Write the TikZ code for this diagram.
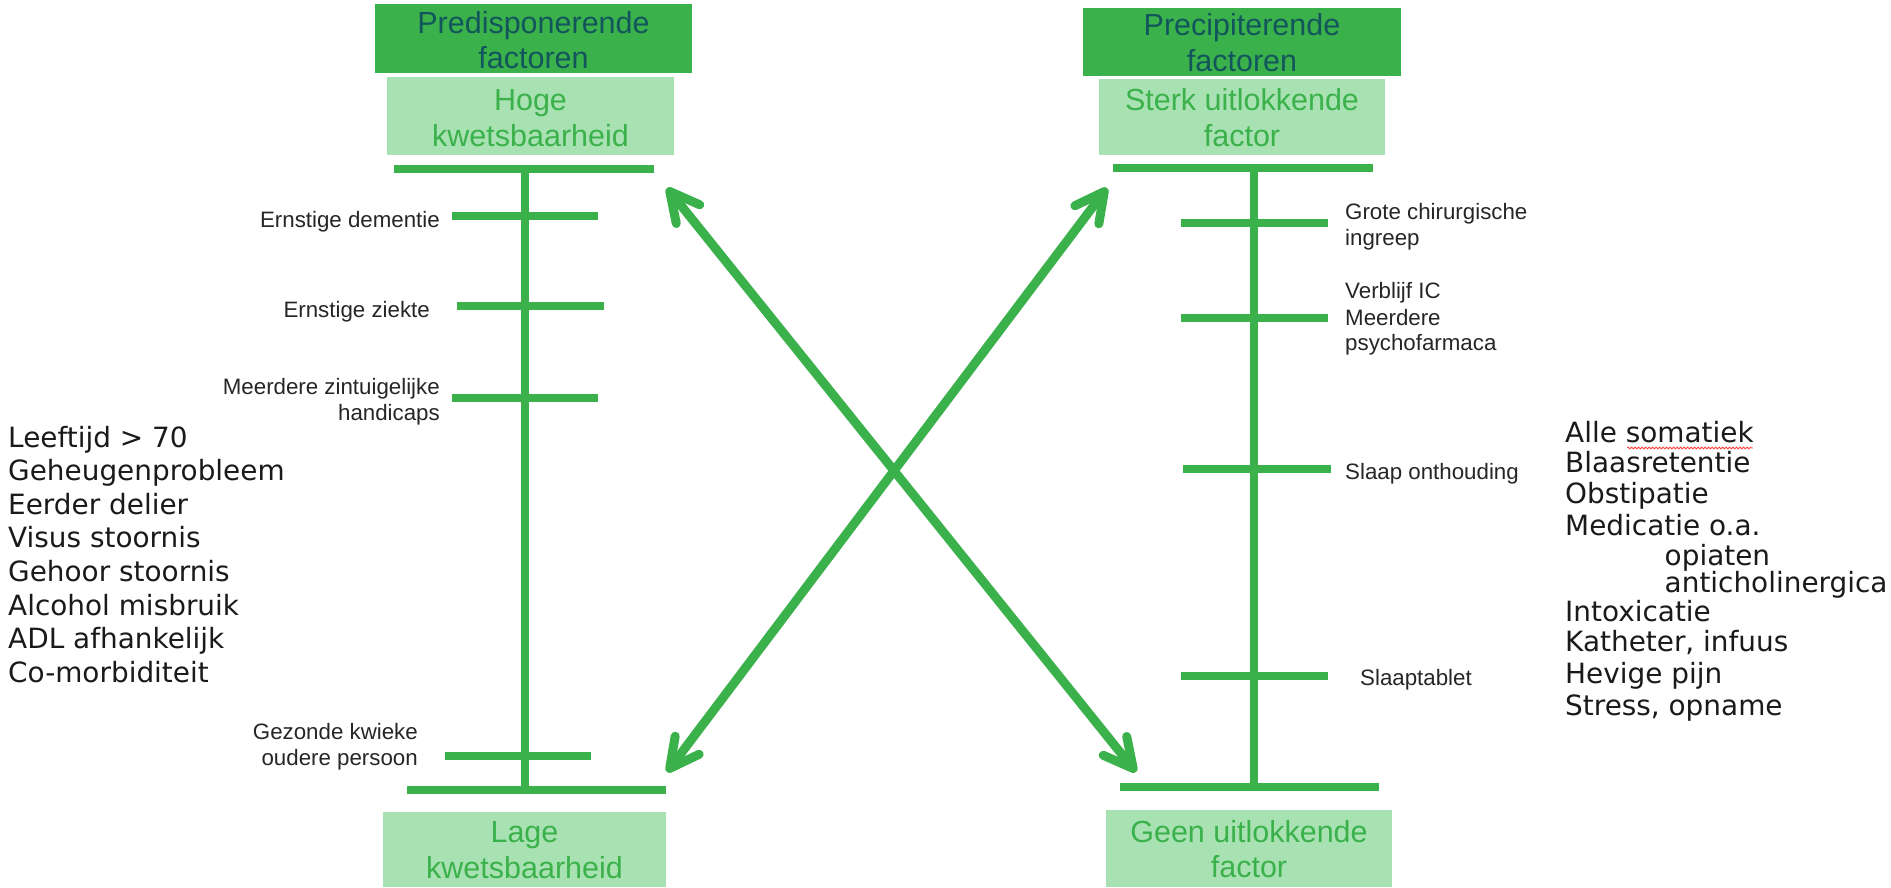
\documentclass[tikz,border=0pt]{standalone}
\usepackage{fontspec}
\setmainfont{Liberation Sans}
\newfontfamily\listfont{DejaVu Sans}
\usetikzlibrary{arrows.meta,decorations.pathmorphing}
\definecolor{gdark}{RGB}{59,177,75}
\definecolor{glight}{RGB}{168,226,178}
\definecolor{tealtxt}{RGB}{18,86,92}
\definecolor{labtxt}{RGB}{38,38,38}
\definecolor{listtxt}{RGB}{26,26,26}
\begin{document}
\begin{tikzpicture}[x=1pt,y=-1pt,
  bar/.style={draw=gdark,line width=8pt},
  boxdark/.style={fill=gdark,draw=none,inner sep=0pt,anchor=north west},
  boxlight/.style={fill=glight,draw=none,inner sep=0pt,anchor=north west},
  hdtxt/.style={inner sep=0pt,anchor=base,text=tealtxt,font=\fontsize{30.5}{34}\selectfont},
  lttxt/.style={inner sep=0pt,anchor=base,text=gdark,font=\fontsize{30.5}{34}\selectfont},
  lablft/.style={inner sep=0pt,anchor=base east,text=labtxt,font=\fontsize{22.3}{26}\selectfont},
  labrgt/.style={inner sep=0pt,anchor=base west,text=labtxt,font=\fontsize{22.3}{26}\selectfont},
  listtx/.style={inner sep=0pt,anchor=base west,text=listtxt,font=\listfont\fontsize{27.9}{32}\selectfont},
  arr/.style={draw=gdark,line width=9pt,
    >={Straight Barb[length=29pt,width=30pt,line cap=round,line join=round]},<->}
]
\useasboundingbox (0,0) rectangle (1891,887);
\fill[white] (0,0) rectangle (1891,887);

% ---- boxes ----
\node[boxdark,minimum width=317pt,minimum height=69pt] (pdbox) at (375,4) {};
\node[boxlight,minimum width=287pt,minimum height=78pt] (hkbox) at (387,77) {};
\node[boxdark,minimum width=318pt,minimum height=68pt] (prbox) at (1083,8) {};
\node[boxlight,minimum width=286pt,minimum height=76pt] (skbox) at (1099,79) {};
\node[boxlight,minimum width=283pt,minimum height=75pt] (lkbox) at (383,812) {};
\node[boxlight,minimum width=286pt,minimum height=77pt] (gubox) at (1106,810) {};

\node[hdtxt] (pd1) at (533.5,33.5) {Predisponerende};
\node[hdtxt] (pd2) at (533.5,68) {factoren};
\node[lttxt] (hk1) at (530.5,110) {Hoge};
\node[lttxt] (hk2) at (530.5,146.7) {kwetsbaarheid};
\node[hdtxt] (pr1) at (1242,35) {Precipiterende};
\node[hdtxt] (pr2) at (1242,71.7) {factoren};
\node[lttxt] (sk1) at (1242,110) {Sterk uitlokkende};
\node[lttxt] (sk2) at (1242,146.7) {factor};
\node[lttxt] (lk1) at (524.5,842) {Lage};
\node[lttxt] (lk2) at (524.5,878) {kwetsbaarheid};
\node[lttxt] (gu1) at (1249,842) {Geen uitlokkende};
\node[lttxt] (gu2) at (1249,877) {factor};

% ---- left scale ----
\coordinate (ltl) at (394,169); \coordinate (ltr) at (654,169);
\coordinate (lbl) at (407,790); \coordinate (lbr) at (666,790);
\coordinate (lvt) at (525,169); \coordinate (lvb) at (525,790);
\draw[bar] (lvt) -- (lvb);
\draw[bar] (ltl) -- (ltr);
\draw[bar] (lbl) -- (lbr);
\coordinate (lt1a) at (452,216); \coordinate (lt1b) at (598,216);
\coordinate (lt2a) at (457,306); \coordinate (lt2b) at (604,306);
\coordinate (lt3a) at (452,398); \coordinate (lt3b) at (598,398);
\coordinate (lt4a) at (445,756); \coordinate (lt4b) at (591,756);
\draw[bar] (lt1a) -- (lt1b);
\draw[bar] (lt2a) -- (lt2b);
\draw[bar] (lt3a) -- (lt3b);
\draw[bar] (lt4a) -- (lt4b);

\node[lablft] (ed) at (440,227.5) {Ernstige dementie};
\node[lablft] (ez) at (430,317.5) {Ernstige ziekte};
\node[lablft] (mz1) at (440,394) {Meerdere zintuigelijke};
\node[lablft] (mz2) at (440,420.5) {handicaps};
\node[lablft] (gk1) at (418,739) {Gezonde kwieke};
\node[lablft] (gk2) at (418,765) {oudere persoon};

% ---- right scale ----
\coordinate (rtl) at (1113,168); \coordinate (rtr) at (1373,168);
\coordinate (rbl) at (1120,787); \coordinate (rbr) at (1379,787);
\coordinate (rvt) at (1254,168); \coordinate (rvb) at (1254,787);
\draw[bar] (rvt) -- (rvb);
\draw[bar] (rtl) -- (rtr);
\draw[bar] (rbl) -- (rbr);
\coordinate (rt1a) at (1181,223); \coordinate (rt1b) at (1328,223);
\coordinate (rt2a) at (1181,318); \coordinate (rt2b) at (1328,318);
\coordinate (rt3a) at (1183,469); \coordinate (rt3b) at (1331,469);
\coordinate (rt4a) at (1181,676); \coordinate (rt4b) at (1328,676);
\draw[bar] (rt1a) -- (rt1b);
\draw[bar] (rt2a) -- (rt2b);
\draw[bar] (rt3a) -- (rt3b);
\draw[bar] (rt4a) -- (rt4b);

\node[labrgt] (gc1) at (1345,219.3) {Grote chirurgische};
\node[labrgt] (gc2) at (1345,245) {ingreep};
\node[labrgt] (vi1) at (1345,298.3) {Verblijf IC};
\node[labrgt] (vi2) at (1345,325) {Meerdere};
\node[labrgt] (vi3) at (1345,350.7) {psychofarmaca};
\node[labrgt] (so) at (1345,479) {Slaap onthouding};
\node[labrgt] (st) at (1360,685) {Slaaptablet};

% ---- crossing arrows ----
\coordinate (a1s) at (667,188); \coordinate (a1e) at (1136,772);
\coordinate (a2s) at (1107,188); \coordinate (a2e) at (667,772);
\draw[arr] (a1s) -- (a1e);
\draw[arr] (a2s) -- (a2e);

% ---- left list ----
\node[listtx] (l1) at (8,447) {Leeftijd > 70};
\node[listtx] (l2) at (8,480.6) {Geheugenprobleem};
\node[listtx] (l3) at (8,514.2) {Eerder delier};
\node[listtx] (l4) at (8,547.8) {Visus stoornis};
\node[listtx] (l5) at (8,581.4) {Gehoor stoornis};
\node[listtx] (l6) at (8,615) {Alcohol misbruik};
\node[listtx] (l7) at (8,648.6) {ADL afhankelijk};
\node[listtx] (l8) at (8,682.2) {Co-morbiditeit};

% ---- right list ----
\node[listtx] (r1) at (1565,442) {Alle somatiek};
\node[listtx] (r2) at (1565,472.7) {Blaasretentie};
\node[listtx] (r3) at (1565,503.3) {Obstipatie};
\node[listtx] (r4) at (1565,535) {Medicatie o.a.};
\node[listtx] (r5) at (1664.5,565) {opiaten};
\node[listtx] (r6) at (1664.5,592.7) {anticholinergica};
\node[listtx] (r7) at (1565,621.7) {Intoxicatie};
\node[listtx] (r8) at (1565,651.7) {Katheter, infuus};
\node[listtx] (r9) at (1565,683.3) {Hevige pijn};
\node[listtx] (r10) at (1565,715) {Stress, opname};

\coordinate (sq1) at (1627,448); \coordinate (sq2) at (1753,448);
\draw[red!75,line width=0.8pt,decorate,decoration={snake,amplitude=1pt,segment length=3.5pt}] (sq1) -- (sq2);
\end{tikzpicture}
\end{document}
